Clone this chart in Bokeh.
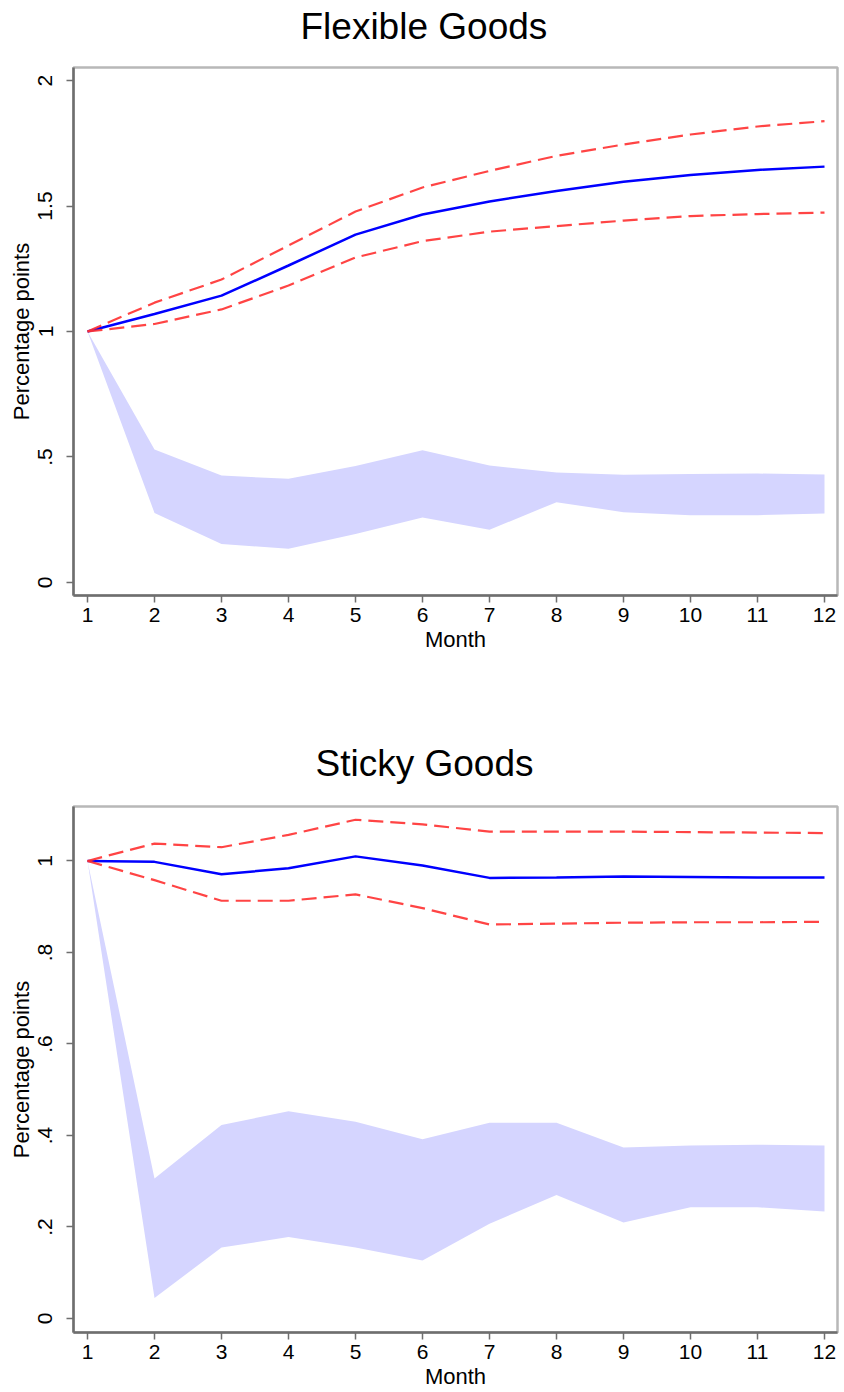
from bokeh.plotting import figure
from bokeh.layouts import column
from bokeh.models import FixedTicker, Range1d, Title
from bokeh.embed import file_html
from bokeh.resources import INLINE

months = [1, 2, 3, 4, 5, 6, 7, 8, 9, 10, 11, 12]

flex_irf = [1.0, 1.07, 1.143, 1.263, 1.386, 1.466, 1.518, 1.56, 1.597, 1.624, 1.644, 1.657]
flex_upper = [1.0, 1.115, 1.207, 1.343, 1.478, 1.574, 1.64, 1.70, 1.745, 1.785, 1.817, 1.838]
flex_lower = [1.0, 1.03, 1.088, 1.183, 1.295, 1.36, 1.398, 1.42, 1.442, 1.46, 1.468, 1.474]
flex_band_hi = [1.0, 0.53, 0.426, 0.413, 0.464, 0.527, 0.466, 0.438, 0.429, 0.432, 0.434, 0.43]
flex_band_lo = [1.0, 0.277, 0.153, 0.134, 0.193, 0.259, 0.21, 0.32, 0.28, 0.268, 0.268, 0.275]

sticky_irf = [1.0, 0.998, 0.971, 0.984, 1.01, 0.99, 0.963, 0.964, 0.966, 0.965, 0.964, 0.964]
sticky_upper = [1.0, 1.038, 1.03, 1.057, 1.09, 1.08, 1.064, 1.064, 1.064, 1.063, 1.062, 1.061]
sticky_lower = [1.0, 0.958, 0.913, 0.913, 0.927, 0.897, 0.861, 0.863, 0.865, 0.866, 0.866, 0.867]
sticky_band_hi = [1.0, 0.306, 0.423, 0.453, 0.43, 0.392, 0.428, 0.428, 0.374, 0.378, 0.38, 0.378]
sticky_band_lo = [1.0, 0.045, 0.155, 0.178, 0.155, 0.127, 0.207, 0.27, 0.21, 0.243, 0.243, 0.234]

flex_yticks = [0, 0.5, 1, 1.5, 2]
flex_ytick_labels = ["0", ".5", "1", "1.5", "2"]
sticky_yticks = [0, 0.2, 0.4, 0.6, 0.8, 1]
sticky_ytick_labels = ["0", ".2", ".4", ".6", ".8", "1"]

titles = ["Flexible Goods", "Sticky Goods"]
x_label = "Month"
y_label = "Percentage points"

FONT = "Liberation Sans"
AXIS_COLOR = "#6e6e6e"


def make_panel(title, title_offset, irf, up, lo, bhi, blo, yticks, ylabels, yrange,
               height, top, bottom, spacer, title_standoff):
    p = figure(width=844, height=height, title=None,
               min_border_left=73, min_border_right=7,
               min_border_top=top, min_border_bottom=bottom,
               x_range=Range1d(0.791, 12.194), y_range=Range1d(*yrange),
               toolbar_location=None, output_backend="svg")
    p.background_fill_color = "white"
    p.border_fill_color = "white"
    p.outline_line_color = "#b8b8b8"
    p.outline_line_width = 2.5
    p.grid.visible = False

    # invisible spacer between frame and title, then the title itself
    p.add_layout(Title(text=" ", text_font_size="1px", standoff=spacer), "above")
    p.add_layout(Title(text=title, text_font=FONT, text_font_size="37px",
                       text_font_style="normal", text_color="black",
                       align="left", offset=title_offset, standoff=title_standoff), "above")

    for ax in (p.xaxis[0], p.yaxis[0]):
        ax.axis_line_color = AXIS_COLOR
        ax.axis_line_width = 2.5
        ax.major_tick_line_color = AXIS_COLOR
        ax.major_tick_line_width = 1.5
        ax.major_tick_out = 7
        ax.major_tick_in = 0
        ax.minor_tick_line_color = None
        ax.major_label_text_font = FONT
        ax.major_label_text_font_size = "21px"
        ax.major_label_text_color = "black"
        ax.axis_label_text_font = FONT
        ax.axis_label_text_font_size = "22px"
        ax.axis_label_text_font_style = "normal"
        ax.axis_label_text_color = "black"

    p.xaxis.ticker = FixedTicker(ticks=months)
    p.xaxis.axis_label = x_label
    p.xaxis.major_label_standoff = 5
    p.xaxis.axis_label_standoff = 2

    p.yaxis.ticker = FixedTicker(ticks=yticks)
    p.yaxis.major_label_overrides = {t: l for t, l in zip(yticks, ylabels)}
    p.yaxis.major_label_orientation = "vertical"
    p.yaxis.axis_label = y_label
    p.yaxis.major_label_standoff = 14
    p.yaxis.axis_label_standoff = 2

    p.varea(x=months, y1=blo, y2=bhi, fill_color="#d5d5ff", fill_alpha=1.0)
    p.line(months, irf, line_color="#0000ff", line_width=2.5)
    p.line(months, up, line_color="#ff3030", line_width=2.2, line_dash="15 7", line_alpha=0.9)
    p.line(months, lo, line_color="#ff3030", line_width=2.2, line_dash="15 7", line_alpha=0.9)
    return p


p1 = make_panel(titles[0], 227, flex_irf, flex_upper, flex_lower, flex_band_hi, flex_band_lo,
                flex_yticks, flex_ytick_labels, (-0.052, 2.052),
                700, 67, 105, 13.5, 7)
p2 = make_panel(titles[1], 242, sticky_irf, sticky_upper, sticky_lower, sticky_band_hi, sticky_band_lo,
                sticky_yticks, sticky_ytick_labels, (-0.0306, 1.119),
                692, 106, 60, 16, 7)

layout = column(p1, p2, spacing=0)
open("out.html", "w").write(file_html(layout, INLINE))
